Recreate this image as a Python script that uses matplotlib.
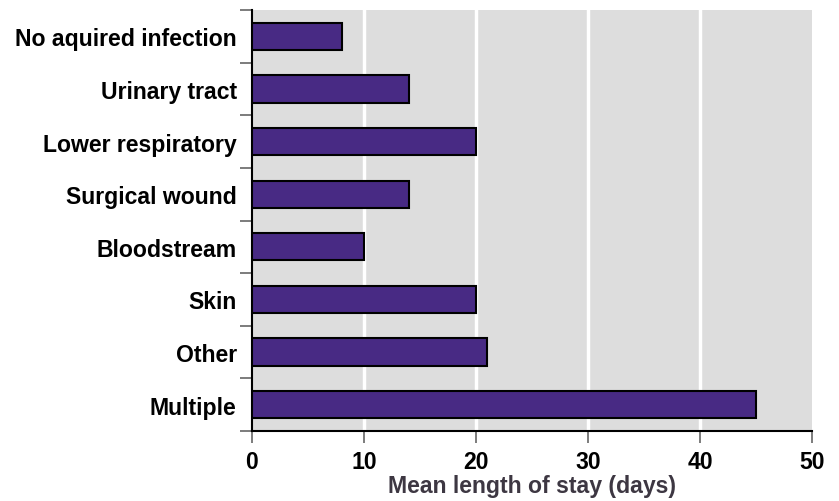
import matplotlib
matplotlib.use("Agg")
import matplotlib.pyplot as plt
import numpy as np

plt.rcParams['font.family'] = ['Liberation Sans', 'DejaVu Sans']

categories = ["No aquired infection", "Urinary tract", "Lower respiratory",
              "Surgical wound", "Bloodstream", "Skin", "Other", "Multiple"]
values = [8, 14, 20, 14, 10, 20, 21, 45]
xticks = [0, 10, 20, 30, 40, 50]
xlabel = "Mean length of stay (days)"

fs = 16.6
fig = plt.figure(figsize=(8.39, 5.02), dpi=100)
ax = fig.add_axes([252/839, 1-432/502, (812-252)/839, (432-11)/502])
ax.set_facecolor('#DDDDDD')

n = len(categories)
y = np.arange(n)
ax.barh(y, values, height=0.52, color='#482A84', edgecolor='black', linewidth=1.5, zorder=3)

ax.set_xlim(0, 50)
ax.set_ylim(n - 0.5, -0.5)
ax.set_xticks(xticks)
ax.set_xticklabels([str(t) for t in xticks], fontsize=fs, fontweight='bold')
for t in xticks[1:-1]:
    ax.axvline(t, color='white', linewidth=2.5, zorder=1)

ax.set_yticks(y)
ax.set_yticklabels(categories, fontsize=fs, fontweight='bold')
ax.tick_params(axis='y', which='major', length=0, pad=11)
ax.set_yticks(np.arange(n + 1) - 0.5, minor=True)
ax.tick_params(axis='y', which='minor', length=9, width=1.2, color='#666666')
ax.tick_params(axis='x', which='major', length=8.5, width=1.2, color='#666666', pad=5)

for s in ['top', 'right']:
    ax.spines[s].set_visible(False)
ax.spines['left'].set_linewidth(1.5)
ax.spines['bottom'].set_linewidth(1.5)

ax.set_xlabel(xlabel, fontsize=fs, fontweight='bold', color='#3D3742', labelpad=1)

fig.savefig('out.png', dpi=100)
